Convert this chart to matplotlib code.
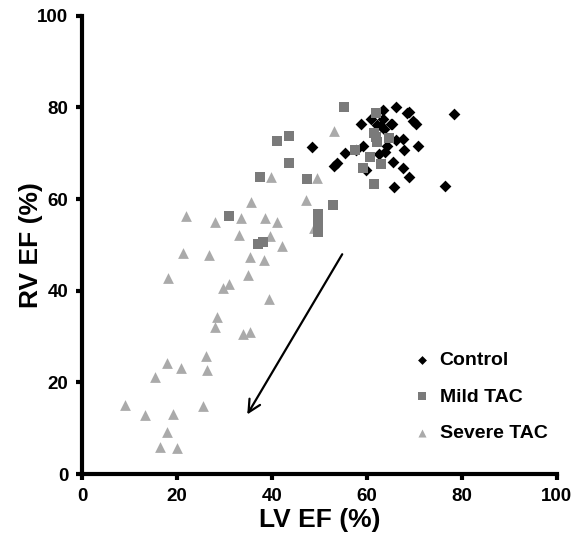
import matplotlib
matplotlib.use("Agg")
import matplotlib.pyplot as plt

plt.rcParams['font.family'] = ['Liberation Sans', 'DejaVu Sans']
plt.rcParams['font.weight'] = 'bold'

# LV EF / RV EF per animal (%)
control_lv = [48.4, 53.0, 53.8, 55.3, 57.8, 58.8, 59.2, 59.9, 60.9, 62.2, 63.4, 63.4,
              63.6, 63.8, 64.2, 65.2, 65.5, 65.7, 66.1, 66.1, 67.6, 67.6, 67.9, 68.4,
              68.8, 68.8, 69.7, 70.3, 70.7, 76.5, 78.3, 62.6, 63.0, 65.0]
control_rv = [71.4, 67.2, 67.8, 70.0, 70.8, 76.5, 71.6, 66.3, 77.5, 76.2, 79.5, 77.5,
              75.2, 70.2, 71.7, 76.5, 68.1, 62.6, 80.0, 73.0, 73.1, 66.8, 70.8, 78.7,
              79.1, 64.9, 77.1, 76.5, 71.7, 62.8, 78.6, 69.9, 75.9, 76.3]

mild_lv = [30.9, 37.4, 37.1, 38.1, 41.1, 43.6, 43.6, 47.3, 49.6, 49.6, 49.6, 52.9,
           55.1, 57.5, 59.2, 60.6, 61.6, 62.0, 61.5, 62.2, 62.9, 64.6, 61.9]
mild_rv = [56.4, 64.9, 50.2, 50.6, 72.7, 73.8, 67.8, 64.5, 56.8, 54.7, 52.9, 58.8,
           80.1, 70.8, 66.8, 69.2, 63.4, 78.8, 74.4, 72.5, 67.6, 73.3, 73.5]

severe_lv = [9.1, 13.3, 15.4, 16.4, 17.9, 17.8, 19.1, 19.9, 18.2, 20.8, 21.3, 21.8,
             25.5, 26.2, 26.3, 26.8, 28.1, 28.4, 28.1, 29.6, 31.0, 33.4, 33.1, 33.9,
             35.3, 35.0, 35.4, 35.6, 38.4, 38.5, 39.5, 39.4, 39.9, 41.1, 42.1, 47.2,
             49.5, 48.8, 53.0]
severe_rv = [15.0, 12.9, 21.2, 5.9, 9.1, 24.2, 13.1, 5.6, 42.8, 23.2, 48.3, 56.4,
             14.9, 25.8, 22.8, 47.9, 55.0, 34.2, 32.1, 40.7, 41.4, 55.9, 52.1, 30.5,
             31.1, 43.4, 47.4, 59.4, 46.8, 55.9, 51.9, 38.2, 64.9, 55.0, 49.8, 59.9,
             64.7, 53.8, 74.9]

fig = plt.figure(figsize=(5.74, 5.45), dpi=100)
ax = fig.add_axes([0.143, 0.130, 0.827, 0.841])

ax.scatter(control_lv, control_rv, marker='D', s=36, color='black', linewidths=0,
           label='Control', zorder=3)
ax.scatter(severe_lv, severe_rv, marker='^', s=60, color='#aaaaaa', linewidths=0,
           label='Severe TAC', zorder=4)
ax.scatter(mild_lv, mild_rv, marker='s', s=50, color='#7a7a7a', linewidths=0,
           label='Mild TAC', zorder=5)

# trend arrow
ax.annotate('', xy=(34.5, 12.5), xytext=(55.1, 48.5),
            arrowprops=dict(arrowstyle='->', color='black', lw=1.6, mutation_scale=22))

ax.set_xlim(0, 100)
ax.set_ylim(0, 100)
ax.set_xticks([0, 20, 40, 60, 80, 100])
ax.set_yticks([0, 20, 40, 60, 80, 100])
ax.spines['top'].set_visible(False)
ax.spines['right'].set_visible(False)
for sp in ('left', 'bottom'):
    ax.spines[sp].set_linewidth(3)
ax.tick_params(direction='out', length=4, width=3, labelsize=13.5, pad=6)
for lab in ax.get_xticklabels() + ax.get_yticklabels():
    lab.set_fontweight('bold')

ax.set_xlabel('LV EF (%)', fontsize=19, fontweight='bold', labelpad=2)
ax.set_ylabel('RV EF (%)', fontsize=19, fontweight='bold', labelpad=-4)

handles, labels = ax.get_legend_handles_labels()
order = [0, 2, 1]
ax.legend([handles[i] for i in order], [labels[i] for i in order],
          loc='upper left', bbox_to_anchor=(0.655, 0.305), frameon=False,
          prop={'size': 14, 'weight': 'bold'}, labelspacing=0.95, markerscale=0.75,
          handletextpad=0.3, handlelength=1.2)

fig.savefig('out.png', dpi=100)
